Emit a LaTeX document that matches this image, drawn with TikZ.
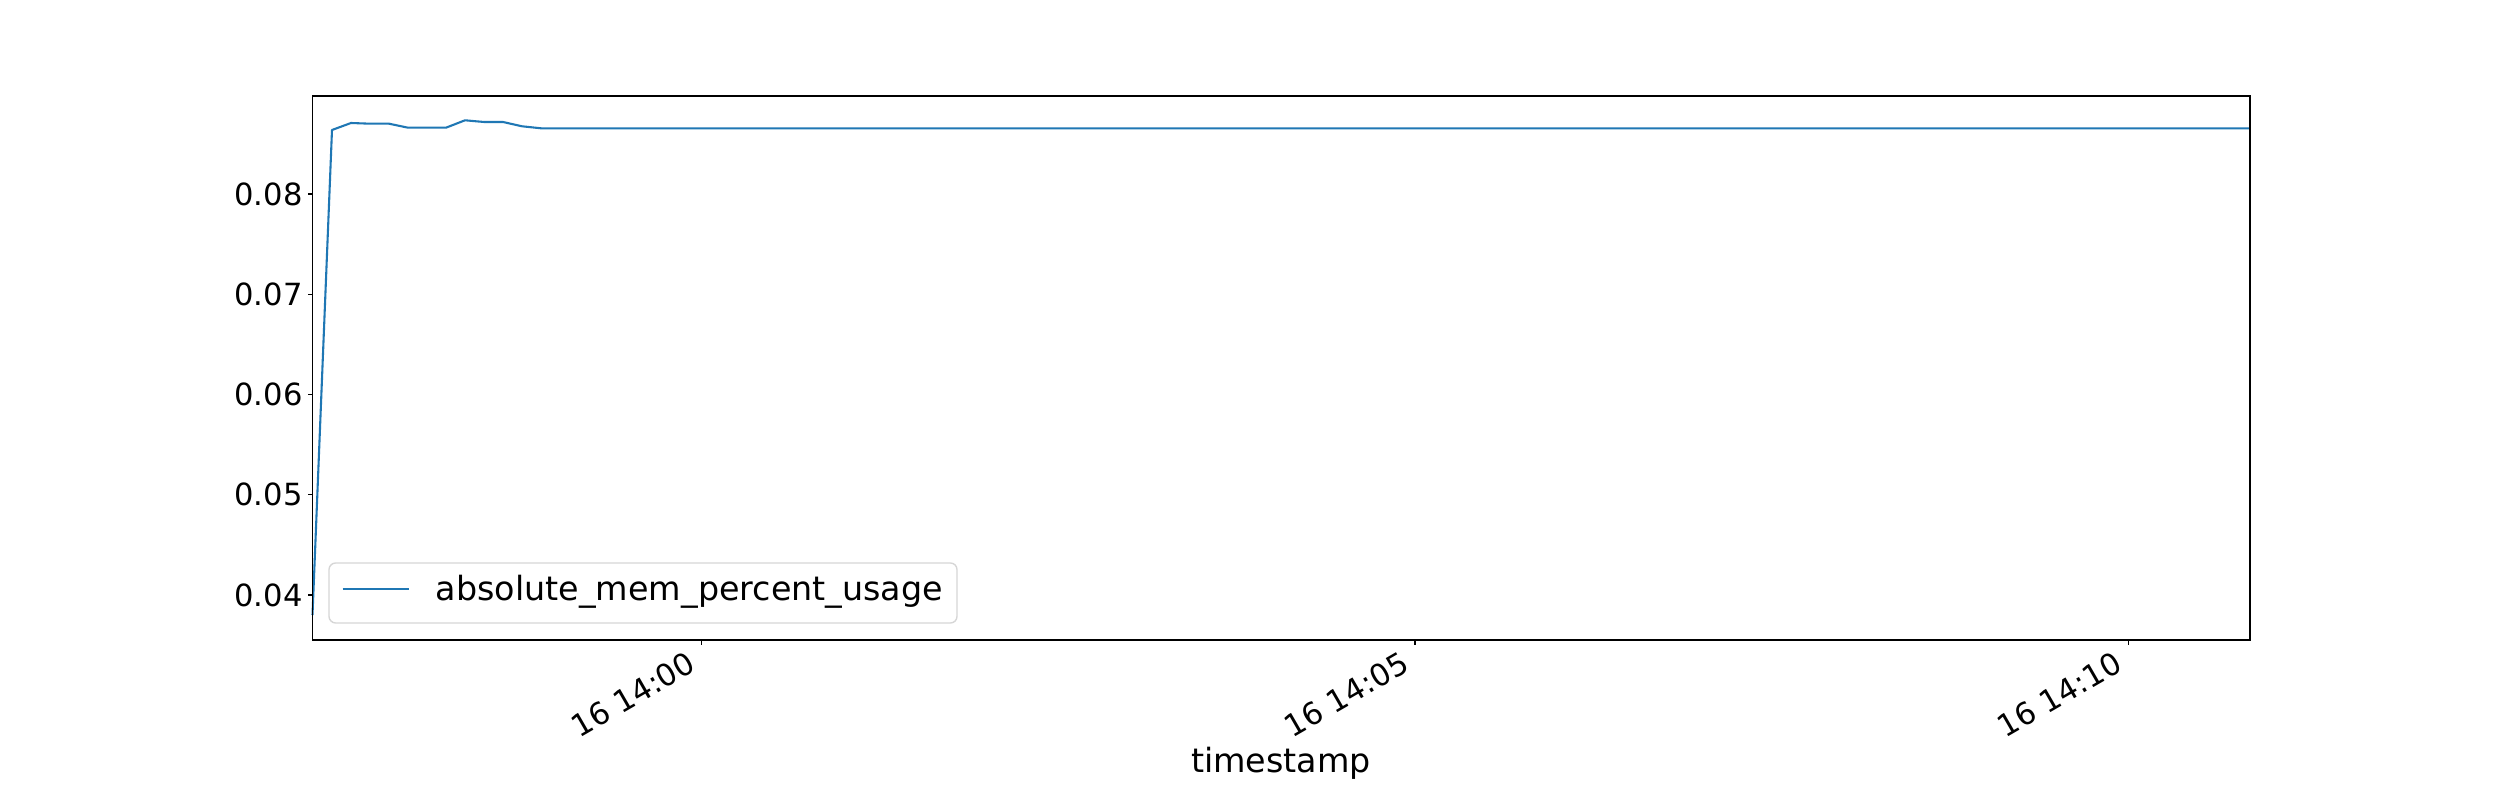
\documentclass[tikz,border=0pt]{standalone}
\usepackage{fontspec}
\setmainfont{DejaVu Sans}
\definecolor{mplblue}{HTML}{1F77B4}
\definecolor{legframe}{HTML}{D6D6D6}
\begin{document}
\begin{tikzpicture}[x=0.72pt,y=0.72pt,
  spine/.style={line width=0.8pt, black, line cap=rect},
  tickmark/.style={line width=0.8pt, black},
  ticklab/.style={inner sep=0pt, font=\fontsize{22}{26}\selectfont},
  xticklab/.style={ticklab, rotate=30, anchor=north east},
  yticklab/.style={ticklab, anchor=east},
  dataline/.style={line width=1.5pt, mplblue, line join=round},
  legbox/.style={draw=legframe, line width=1pt, fill=white, rounded corners=4.8pt},
  biglab/.style={inner sep=0pt, font=\fontsize{24}{29}\selectfont}]
% canvas
\fill[white] (0,0) rectangle (2500,800);
\useasboundingbox (0,0) rectangle (2500,800);
% axes corners
\coordinate (ll) at (312.5,160);
\coordinate (ur) at (2250,704);
% data
\draw[dataline] (312.5,185) -- (332,670) -- (351,677) -- (370,676.3) -- (389,676.3)
  -- (408,672.3) -- (427,672.3) -- (446,672.3) -- (465,679.7) -- (484,678)
  -- (503,678) -- (522,673.7) -- (541,671.7) -- (2250,671.7);
% spines
\draw[spine] (ll) rectangle (ur);
% y ticks
\foreach \v/\y in {0.04/205,0.05/305.3,0.06/405.5,0.07/505.8,0.08/606} {
  \draw[tickmark] (312.5,\y) -- ++(-4.86,0);
  \node[yticklab] (y\v) at (302.8,\y) {\v};
}
% x ticks
\foreach \t/\x in {00/701.7,05/1415,10/2128.3} {
  \draw[tickmark] (\x,160) -- ++(0,-4.86);
  \node[xticklab] (x\t) at (\x-15.3,150) {16 14:\t};
}
% x label
\node[biglab, anchor=base] (xlabel) at (1281,27) {timestamp};
% legend
\draw[legbox] (329,177) rectangle (957,237);
\coordinate (legA) at (342.6,211);
\coordinate (legB) at (409.3,211);
\draw[dataline] (legA) -- (legB);
\node[biglab, anchor=base west] (legtext) at (435.7,199) {absolute\_mem\_percent\_usage};
\end{tikzpicture}
\end{document}
